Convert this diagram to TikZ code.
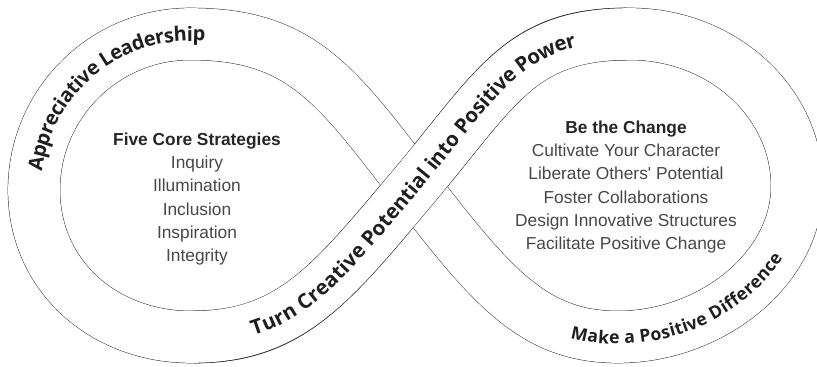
\documentclass[tikz,border=0pt]{standalone}
\usepackage{fontspec}
\setmainfont{Liberation Sans}
\newfontfamily\lobefont{Liberation Sans}
\newfontfamily\bandfont{Open Sans}
\usetikzlibrary{decorations.text}

\tikzset{
  ribbonedge/.style={draw=black!85,line width=1.578cm},
  ribbonfill/.style={draw=white,line width=1.55cm},
  lobetext/.style={align=center,text=black!72,font=\lobefont\fontsize{14.8}{19.7}\selectfont},
  bandlabel/.style={decorate,decoration={text along path,raise=-6pt,text color=black!88}}
}
\newcommand{\bandfmt}[1]{|\bandfont\bfseries\fontsize{#1}{#1}\selectfont|}

\begin{document}
\begin{tikzpicture}[x=0.03cm,y=-0.03cm]
\useasboundingbox (0,0) rectangle (817,366);

% Crossing and lobe extremes
\coordinate (cross) at (414,186);
\coordinate (rtop) at (630,34);
\coordinate (rright) at (797,186);
\coordinate (rbot) at (618,337);
\coordinate (ltop) at (190,34);
\coordinate (lleft) at (34,190);
\coordinate (lbot) at (191,337);

% Ribbon
\foreach \layer in {ribbonedge,ribbonfill}
  \draw[\layer] (cross) .. controls (497,87) and (520,34) .. (rtop)
    .. controls (722,34) and (797,102) .. (rright)
    .. controls (797,270) and (710,337) .. (rbot)
    .. controls (535,337) and (493,289) .. (cross)
    .. controls (335,83) and (300,34) .. (ltop)
    .. controls (104,34) and (34,104) .. (lleft)
    .. controls (34,276) and (104,337) .. (lbot)
    .. controls (290,337) and (330,286) .. (cross);
% Band on top at the crossing
\draw[ribbonedge,shorten <=3pt,shorten >=3pt] (lbot) .. controls (290,337) and (330,286) .. (cross)
  .. controls (497,87) and (520,34) .. (rtop);
\draw[ribbonfill] (lbot) .. controls (290,337) and (330,286) .. (cross)
  .. controls (497,87) and (520,34) .. (rtop);

% Band labels
\path[bandlabel,decoration={text align={left indent=12pt},
  text={\bandfmt{17} Appreciative Leadership}}]
  (lleft) .. controls (34,104) and (104,34) .. (ltop)
  .. controls (300,34) and (335,83) .. (cross);
\path[bandlabel,decoration={text align=center,
  text={\bandfmt{17.5} Turn Creative Potential into Positive Power}}]
  (lbot) .. controls (290,337) and (330,286) .. (cross)
  .. controls (497,87) and (520,34) .. (rtop);
\path[bandlabel,decoration={text align={left indent=14pt},
  text={\bandfmt{15} Make a Positive Difference}}]
  (552,324) .. controls (572,333) and (593,337) .. (rbot)
  .. controls (710,337) and (797,270) .. (rright)
  .. controls (797,102) and (722,34) .. (rtop);

% Lobe contents
\node[lobetext] (strategies) at (197,199) {\textbf{\color{black!85}Five Core Strategies}\\Inquiry\\Illumination\\Inclusion\\Inspiration\\Integrity};
\node[lobetext] (change) at (626,187) {\textbf{\color{black!85}Be the Change}\\Cultivate Your Character\\Liberate Others' Potential\\Foster Collaborations\\Design Innovative Structures\\Facilitate Positive Change};
\end{tikzpicture}
\end{document}
